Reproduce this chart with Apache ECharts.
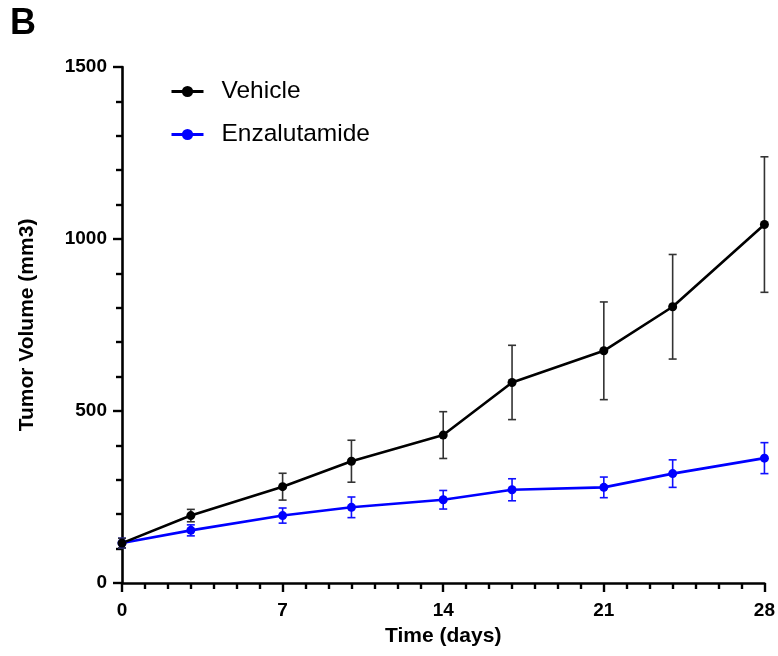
<!DOCTYPE html>
<html lang="en">
    <head>
        <meta charset="UTF-8" />
        <title>Tumor Volume - Vehicle vs Enzalutamide</title>
        <script src="https://cdn.jsdelivr.net/npm/echarts@6.0.0/dist/echarts.min.js"></script>
        <style>
            body { margin: 0; background: #fff; }
        </style>
    </head>
    <body>
        <!-- Chart container -->
        <div id="main" style="width: 778px; height: 656px"></div>

        <script>
            // Data (mean +/- SEM)
            const days = [0, 3, 7, 10, 14, 17, 21, 24, 28];
            const vehicleMean = [116, 196, 280, 354, 430, 583, 675, 803, 1042];
            const vehicleSem = [14, 18, 39, 61, 68, 108, 142, 152, 197];
            const enzaMean = [116, 153, 196, 220, 242, 271, 278, 318, 363];
            const enzaSem = [14, 16, 22, 30, 27, 32, 30, 40, 45];
            const xTicks = [0, 7, 14, 21, 28];
            const yTicks = [0, 500, 1000, 1500];

            const font = "'Liberation Sans', Arial, sans-serif";

            let myChart = echarts.init(document.getElementById("main"));

            // Vertical error bar with caps, drawn through the axis scales
            function errorBars(name, mean, sem, color) {
                return {
                    name: name,
                    type: "custom",
                    silent: true,
                    data: days.map((d, i) => [d, mean[i] - sem[i], mean[i] + sem[i]]),
                    encode: { x: 0, y: [1, 2] },
                    renderItem: (params, api) => {
                        const x = api.value(0);
                        const lo = api.coord([x, api.value(1)]);
                        const hi = api.coord([x, api.value(2)]);
                        const w = 4;
                        const style = { stroke: color, lineWidth: 1.6 };
                        return {
                            type: "group",
                            children: [
                                { type: "line", shape: { x1: lo[0], y1: lo[1], x2: hi[0], y2: hi[1] }, style: style },
                                { type: "line", shape: { x1: lo[0] - w, y1: lo[1], x2: lo[0] + w, y2: lo[1] }, style: style },
                                { type: "line", shape: { x1: hi[0] - w, y1: hi[1], x2: hi[0] + w, y2: hi[1] }, style: style }
                            ]
                        };
                    }
                };
            }

            function meanLine(name, mean, color) {
                return {
                    name: name,
                    type: "line",
                    data: days.map((d, i) => [d, mean[i]]),
                    symbol: "circle",
                    symbolSize: 9,
                    lineStyle: { color: color, width: 2.6 },
                    itemStyle: { color: color },
                    emphasis: { disabled: true }
                };
            }

            let options = {
                animation: false,
                title: {
                    text: "B",
                    left: 10,
                    top: 6,
                    padding: 0,
                    textStyle: { fontFamily: font, fontSize: 36, fontWeight: "bold", color: "#000" }
                },
                legend: {
                    data: ["Vehicle", "Enzalutamide"],
                    orient: "vertical",
                    left: 165,
                    top: 74,
                    itemWidth: 32,
                    itemHeight: 14,
                    itemGap: 18,
                    lineStyle: { width: 3 },
                    textStyle: { fontFamily: font, fontSize: 24.5, color: "#000", padding: [0, 0, 0, 13] }
                },
                grid: { left: 122, right: 13, top: 67, bottom: 73 },
                xAxis: {
                    type: "value",
                    min: 0,
                    max: 28,
                    interval: 7,
                    name: "Time (days)",
                    nameLocation: "middle",
                    nameGap: 43,
                    nameTextStyle: { fontFamily: font, fontSize: 21, fontWeight: "bold", color: "#000" },
                    axisLine: { lineStyle: { color: "#000", width: 2.6 } },
                    axisTick: { length: 9, lineStyle: { color: "#000", width: 2.4 } },
                    minorTick: { show: true, splitNumber: 7, length: 6, lineStyle: { color: "#000", width: 2.4 } },
                    splitLine: { show: false },
                    axisLabel: {
                        margin: 18,
                        fontFamily: font,
                        fontSize: 19,
                        fontWeight: "bold",
                        color: "#000",
                        formatter: (v) => (xTicks.includes(v) ? String(v) : "")
                    }
                },
                yAxis: {
                    type: "value",
                    min: 0,
                    max: 1500,
                    interval: 500,
                    name: "Tumor Volume (mm3)",
                    nameLocation: "middle",
                    nameGap: 84,
                    nameTextStyle: { fontFamily: font, fontSize: 21, fontWeight: "bold", color: "#000" },
                    axisLine: { show: true, lineStyle: { color: "#000", width: 2.6 } },
                    axisTick: { show: true, length: 9, lineStyle: { color: "#000", width: 2.4 } },
                    minorTick: { show: true, splitNumber: 5, length: 6, lineStyle: { color: "#000", width: 2.4 } },
                    splitLine: { show: false },
                    axisLabel: {
                        margin: 15,
                        fontFamily: font,
                        fontSize: 19,
                        fontWeight: "bold",
                        color: "#000",
                        formatter: (v) => (yTicks.includes(v) ? String(v) : "")
                    }
                },
                series: [
                    errorBars("Enzalutamide SEM", enzaMean, enzaSem, "#1010ff"),
                    meanLine("Enzalutamide", enzaMean, "#0000ff"),
                    errorBars("Vehicle SEM", vehicleMean, vehicleSem, "#333333"),
                    meanLine("Vehicle", vehicleMean, "#000000")
                ]
            };

            myChart.setOption(options);
        </script>
    </body>
</html>
